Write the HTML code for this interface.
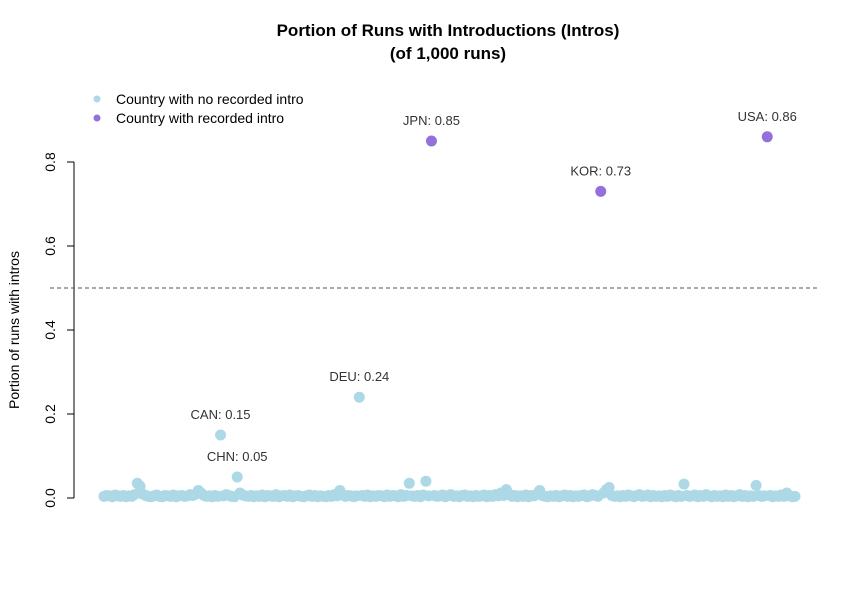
<!DOCTYPE html>
<html><head><meta charset="utf-8"><style>
body{margin:0;background:#fff}
svg{display:block;font-family:"Liberation Sans",Arial,sans-serif}
</style></head><body>
<svg id="chart" width="862" height="613">
<text x="448" y="36" text-anchor="middle" font-size="17" font-weight="bold">Portion of Runs with Introductions (Intros)</text>
<text x="448" y="59" text-anchor="middle" font-size="17" font-weight="bold">(of 1,000 runs)</text>
<text transform="translate(19,330) rotate(-90)" text-anchor="middle" font-size="14">Portion of runs with intros</text>
<g>
<circle cx="97" cy="99" r="3.5" fill="#ADD8E6"/>
<text x="116" y="104" font-size="14">Country with no recorded intro</text>
<circle cx="97" cy="118" r="3.5" fill="#9370DB"/>
<text x="116" y="123" font-size="14">Country with recorded intro</text>
</g>
<g id="axis"></g>
<g id="marks"></g>
</svg>
<script>
const values=[.004,.006,.005,.003,.007,.005,.004,.006,.003,.005,
.004,.008,.035,.028,.009,.006,.004,.003,.005,.007,
.004,.003,.006,.005,.004,.007,.003,.005,.006,.004,
.005,.008,.006,.009,.018,.012,.006,.004,.005,.003,
.006,.004,.15,.005,.008,.006,.004,.003,.05,.012,
.007,.005,.004,.006,.003,.005,.004,.007,.003,.006,
.005,.004,.008,.003,.005,.006,.004,.007,.003,.005,
.006,.004,.003,.005,.007,.004,.006,.003,.005,.004,
.003,.006,.004,.008,.005,.018,.007,.004,.006,.005,
.003,.005,.24,.006,.004,.007,.003,.005,.004,.006,
.005,.003,.007,.004,.006,.005,.003,.008,.004,.006,
.035,.005,.004,.006,.003,.007,.04,.005,.85,.006,
.004,.005,.007,.003,.006,.008,.004,.005,.003,.006,
.007,.004,.005,.003,.006,.004,.005,.007,.003,.006,
.004,.008,.005,.012,.006,.02,.009,.004,.006,.003,
.005,.004,.007,.003,.006,.005,.009,.018,.006,.004,
.003,.005,.004,.006,.003,.005,.007,.004,.006,.003,
.005,.004,.006,.007,.003,.005,.008,.006,.004,.73,
.012,.02,.025,.006,.004,.005,.003,.006,.004,.007,
.005,.003,.006,.008,.004,.005,.007,.003,.006,.004,
.005,.003,.006,.004,.007,.005,.003,.006,.004,.033,
.006,.004,.005,.007,.003,.006,.004,.008,.005,.003,
.006,.004,.005,.003,.007,.004,.006,.003,.005,.008,
.004,.006,.003,.005,.004,.03,.006,.004,.005,.86,
.006,.003,.005,.004,.007,.004,.012,.005,.003,.004];
const labelIdx=[42,48,92,118,179,239];
const labelNames=["CAN","CHN","DEU","JPN","KOR","USA"];
const introIdx=[118,179,239];
const yTicks=[0,0.2,0.4,0.6,0.8];
const yTickLabels=["0.0","0.2","0.4","0.6","0.8"];
const threshold=[0.5];
const NS="http://www.w3.org/2000/svg";
const y=v=>498-v*420;
const x=i=>104+i*(691/(values.length-1));
function mk(t,a,p){const e=document.createElementNS(NS,t);for(const k in a)e.setAttribute(k,a[k]);p.appendChild(e);return e;}
const ax=document.getElementById('axis'),mg=document.getElementById('marks');
const al=mk('line',{x1:74,x2:74,y1:y(yTicks[0]),y2:y(yTicks[yTicks.length-1]),stroke:'#000'},ax);


yTicks.forEach((t,k)=>{
 const l=mk('line',{x1:67,x2:74,y1:y(t),y2:y(t),stroke:'#000'},ax);
 
 
 const tx=mk('text',{transform:`translate(55,${y(t)}) rotate(-90)`,'text-anchor':'middle','font-size':14},ax);
 tx.textContent=yTickLabels[k];
 
 
});
threshold.forEach(v=>{
 const l=mk('line',{x1:50,x2:820,y1:y(v),y2:y(v),stroke:'#555','stroke-dasharray':'4,3'},mg);
 
 
});
values.forEach((v,i)=>{
 const c=mk('circle',{cx:x(i),cy:y(v),r:5.5,fill:introIdx.includes(i)?'#9370DB':'#ADD8E6'},mg);
 
 
});
labelIdx.forEach((i,k)=>{
 const t=mk('text',{x:x(i),y:y(values[i])-16,'text-anchor':'middle','font-size':13,fill:'#333'},mg);
 t.textContent=labelNames[k]+': '+values[i].toFixed(2);
 
 
});
</script>
</body></html>
